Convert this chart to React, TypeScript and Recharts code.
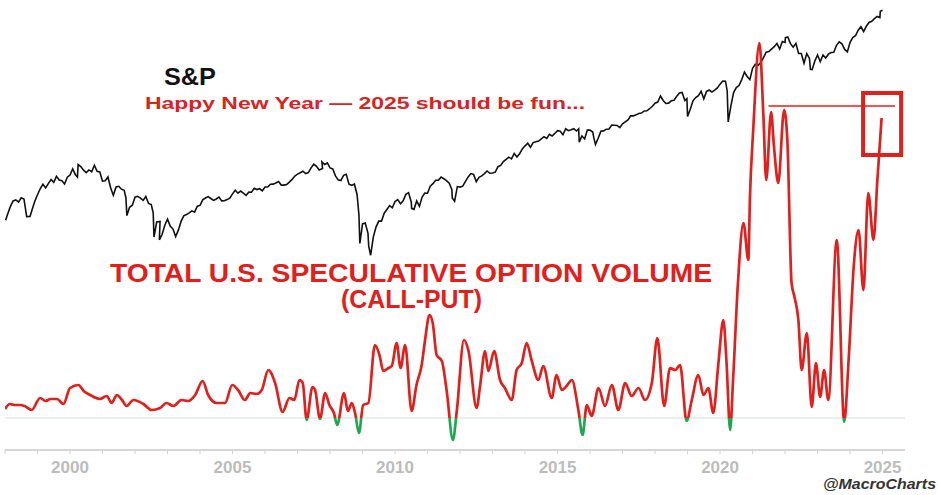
import { ComposedChart, Line, XAxis, YAxis, ReferenceLine, ReferenceArea } from 'recharts';

// S&P 500 (month-end closes plus a few swing highs/lows), x = decimal year
const spxYears = [
  1998.02, 1998.083, 1998.167, 1998.25, 1998.333, 1998.417, 1998.5, 1998.583, 1998.667, 1998.77, 1998.833, 1998.917, 1999.0,
  1999.083, 1999.167, 1999.25, 1999.333, 1999.417, 1999.5, 1999.583, 1999.667, 1999.75, 1999.833, 1999.917, 2000.0,
  2000.083, 2000.167, 2000.23, 2000.25, 2000.333, 2000.417, 2000.5, 2000.583, 2000.667, 2000.75, 2000.833, 2000.917, 2001.0,
  2001.083, 2001.167, 2001.25, 2001.333, 2001.417, 2001.5, 2001.583, 2001.667, 2001.72, 2001.75, 2001.833, 2001.917, 2002.0,
  2002.083, 2002.167, 2002.25, 2002.333, 2002.417, 2002.5, 2002.56, 2002.583, 2002.667, 2002.77, 2002.75, 2002.833, 2002.917, 2003.0,
  2003.083, 2003.167, 2003.19, 2003.25, 2003.333, 2003.417, 2003.5, 2003.583, 2003.667, 2003.75, 2003.833, 2003.917, 2004.0,
  2004.083, 2004.167, 2004.25, 2004.333, 2004.417, 2004.5, 2004.583, 2004.667, 2004.75, 2004.833, 2004.917, 2005.0,
  2005.083, 2005.167, 2005.25, 2005.333, 2005.417, 2005.5, 2005.583, 2005.667, 2005.75, 2005.833, 2005.917, 2006.0,
  2006.083, 2006.167, 2006.25, 2006.333, 2006.417, 2006.5, 2006.583, 2006.667, 2006.75, 2006.833, 2006.917, 2007.0,
  2007.083, 2007.167, 2007.25, 2007.333, 2007.417, 2007.5, 2007.583, 2007.667, 2007.77, 2007.75, 2007.833, 2007.917, 2008.0,
  2008.083, 2008.167, 2008.25, 2008.333, 2008.417, 2008.5, 2008.583, 2008.667, 2008.75, 2008.833, 2008.89, 2008.917, 2009.0,
  2009.083, 2009.167, 2009.19, 2009.25, 2009.333, 2009.417, 2009.5, 2009.583, 2009.667, 2009.75, 2009.833, 2009.917, 2010.0,
  2010.083, 2010.167, 2010.25, 2010.333, 2010.417, 2010.5, 2010.51, 2010.583, 2010.667, 2010.75, 2010.833, 2010.917, 2011.0,
  2011.083, 2011.167, 2011.25, 2011.333, 2011.417, 2011.5, 2011.583, 2011.667, 2011.75, 2011.76, 2011.833, 2011.917, 2012.0,
  2012.083, 2012.167, 2012.25, 2012.333, 2012.417, 2012.5, 2012.583, 2012.667, 2012.75, 2012.833, 2012.917, 2013.0,
  2013.083, 2013.167, 2013.25, 2013.333, 2013.417, 2013.5, 2013.583, 2013.667, 2013.75, 2013.833, 2013.917, 2014.0,
  2014.083, 2014.167, 2014.25, 2014.333, 2014.417, 2014.5, 2014.583, 2014.667, 2014.75, 2014.833, 2014.917, 2015.0,
  2015.083, 2015.167, 2015.25, 2015.333, 2015.417, 2015.5, 2015.583, 2015.65, 2015.667, 2015.75, 2015.833, 2015.917, 2016.0,
  2016.083, 2016.117, 2016.167, 2016.25, 2016.333, 2016.417, 2016.5, 2016.583, 2016.667, 2016.75, 2016.833, 2016.917, 2017.0,
  2017.083, 2017.167, 2017.25, 2017.333, 2017.417, 2017.5, 2017.583, 2017.667, 2017.75, 2017.833, 2017.917, 2018.0,
  2018.083, 2018.167, 2018.25, 2018.333, 2018.417, 2018.5, 2018.583, 2018.667, 2018.75, 2018.833, 2018.917, 2018.98, 2019.0,
  2019.083, 2019.167, 2019.25, 2019.333, 2019.417, 2019.5, 2019.583, 2019.667, 2019.75, 2019.833, 2019.917, 2020.0,
  2020.083, 2020.167, 2020.22, 2020.25, 2020.333, 2020.417, 2020.5, 2020.583, 2020.667, 2020.75, 2020.833, 2020.917, 2021.0,
  2021.083, 2021.167, 2021.25, 2021.333, 2021.417, 2021.5, 2021.583, 2021.667, 2021.75, 2021.833, 2021.917, 2022.0,
  2022.01, 2022.083, 2022.167, 2022.25, 2022.333, 2022.417, 2022.5, 2022.583, 2022.667, 2022.75, 2022.78, 2022.833, 2022.917, 2023.0,
  2023.083, 2023.167, 2023.25, 2023.333, 2023.417, 2023.5, 2023.583, 2023.667, 2023.75, 2023.833, 2023.917, 2024.0,
  2024.083, 2024.167, 2024.25, 2024.333, 2024.417, 2024.5, 2024.583, 2024.667, 2024.75, 2024.833, 2024.917, 2024.93, 2025.0,
];
const spxClose = [
  927, 980, 1049, 1102, 1112, 1091, 1134, 1121, 957, 959, 1017, 1099, 1164, 1229,
  1280, 1238, 1286, 1335, 1302, 1373, 1329, 1320, 1283, 1363, 1389, 1469,
  1394, 1366, 1527, 1499, 1452, 1421, 1455, 1431, 1518, 1437, 1429, 1315, 1320,
  1366, 1240, 1160, 1249, 1256, 1224, 1211, 1134, 966, 1041, 1060, 1139, 1148,
  1130, 1107, 1147, 1077, 1067, 990, 797, 912, 916, 777, 815, 886, 936, 880,
  856, 841, 800, 848, 917, 964, 975, 990, 1008, 996, 1051, 1058, 1112,
  1131, 1145, 1126, 1107, 1121, 1141, 1102, 1104, 1115, 1130, 1174, 1212,
  1181, 1204, 1181, 1157, 1192, 1191, 1234, 1220, 1229, 1207, 1249, 1248,
  1280, 1281, 1295, 1311, 1270, 1270, 1277, 1304, 1336, 1378, 1401, 1418,
  1438, 1407, 1421, 1482, 1531, 1503, 1455, 1474, 1565, 1527, 1549, 1481, 1468,
  1379, 1331, 1323, 1386, 1400, 1280, 1267, 1283, 1165, 969, 752, 896, 903,
  826, 735, 677, 798, 873, 919, 919, 987, 1021, 1057, 1036, 1096, 1115,
  1074, 1104, 1169, 1187, 1089, 1031, 1022, 1102, 1049, 1141, 1183, 1181, 1258,
  1286, 1327, 1326, 1364, 1345, 1321, 1292, 1219, 1131, 1099, 1253, 1247, 1258,
  1312, 1366, 1408, 1398, 1310, 1362, 1379, 1407, 1441, 1412, 1416, 1426,
  1498, 1515, 1569, 1598, 1631, 1606, 1686, 1633, 1682, 1757, 1806, 1848,
  1783, 1859, 1872, 1884, 1924, 1960, 1931, 2003, 1972, 2018, 2068, 2059,
  1995, 2105, 2068, 2086, 2107, 2063, 2104, 1867, 1972, 1920, 2079, 2080, 2044,
  1940, 1829, 1932, 2060, 2065, 2097, 2099, 2174, 2171, 2168, 2126, 2199, 2239,
  2279, 2364, 2363, 2384, 2412, 2423, 2470, 2472, 2519, 2575, 2648, 2674,
  2824, 2714, 2641, 2648, 2705, 2718, 2816, 2902, 2914, 2712, 2760, 2351, 2507,
  2704, 2784, 2834, 2946, 2752, 2942, 2980, 2926, 2977, 3038, 3141, 3231,
  3226, 2954, 2237, 2585, 2912, 3044, 3100, 3271, 3500, 3363, 3270, 3622, 3756,
  3714, 3811, 3973, 4181, 4204, 4298, 4395, 4523, 4308, 4605, 4567, 4766,
  4797, 4516, 4374, 4530, 4132, 4132, 3785, 4130, 3955, 3586, 3577, 3872, 4080, 3840,
  4077, 3970, 4109, 4169, 4180, 4450, 4589, 4508, 4288, 4194, 4568, 4770,
  4846, 5096, 5254, 5036, 5278, 5460, 5522, 5648, 5762, 5705, 6032, 6090, 5882,
];

// Total U.S. speculative option volume (call-put), index units, x = decimal year
const optYears = [
  1998.0, 1998.15, 1998.3, 1998.45, 1998.6, 1998.82, 1999.08, 1999.25, 1999.4, 1999.6, 1999.8,
  2000.0, 2000.26, 2000.42, 2000.62, 2000.92, 2001.13, 2001.28, 2001.44, 2001.6, 2001.74, 2001.95,
  2002.26, 2002.51, 2002.77, 2002.97, 2003.18, 2003.43, 2003.64, 2003.85,
  2004.08, 2004.25, 2004.51, 2004.77, 2004.99, 2005.17, 2005.38, 2005.55, 2005.74, 2005.9,
  2006.1, 2006.31, 2006.54, 2006.75, 2006.9, 2007.06, 2007.16, 2007.28, 2007.46, 2007.54, 2007.69, 2007.85, 2007.98,
  2008.12, 2008.22, 2008.43, 2008.55, 2008.67, 2008.77, 2008.89, 2009.02, 2009.18, 2009.38, 2009.52, 2009.64, 2009.8, 2009.9,
  2010.05, 2010.17, 2010.31, 2010.51, 2010.66, 2010.82, 2010.92, 2011.06, 2011.16, 2011.28, 2011.44, 2011.59, 2011.78, 2011.9,
  2012.12, 2012.26, 2012.51, 2012.62, 2012.77, 2012.87, 2013.05, 2013.23, 2013.38, 2013.59, 2013.74, 2013.9,
  2014.05, 2014.2, 2014.41, 2014.56, 2014.82, 2014.97, 2015.13, 2015.28, 2015.44, 2015.64, 2015.77, 2015.9,
  2016.05, 2016.26, 2016.46, 2016.67, 2016.87, 2017.08, 2017.28, 2017.49, 2017.69, 2017.9,
  2018.07, 2018.28, 2018.46, 2018.62, 2018.77, 2018.97, 2019.13, 2019.33, 2019.49, 2019.64, 2019.79, 2019.95,
  2020.1, 2020.2, 2020.31, 2020.4, 2020.55, 2020.72, 2020.87, 2020.92, 2021.02, 2021.21, 2021.33, 2021.42, 2021.57,
  2021.66, 2021.79, 2021.97, 2022.07, 2022.2, 2022.29, 2022.41, 2022.51, 2022.67, 2022.82, 2022.95,
  2023.08, 2023.2, 2023.33, 2023.59, 2023.82, 2023.95, 2024.12, 2024.26, 2024.41, 2024.56, 2024.72, 2024.84, 2024.97,
];
const optVolume = [
  9, 14, 13, 13, 12, 8, 20, 17, 19, 19, 14,
  30, 33, 27, 23, 19, 22, 15, 23, 18, 12, 18,
  14, 8, 10, 15, 12, 18, 17, 23,
  37, 23, 15, 15, 33, 28, 18, 25, 24, 28,
  48, 35, 6, 20, 18, 38, 35, -2, 31, 28, -1, 25, 13,
  5, -7, 25, 7, 15, 5, -15, 13, 15, 73, 63, 47, 50, 52,
  75, 50, 73, 7, 33, 53, 77, 103, 95, 63, 57, 27, -22, 7,
  78, 67, 10, 33, 67, 47, 67, 38, 30, 18, 48, 55,
  75, 58, 38, 52, 20, 43, 28, 32, 38, 8, -17, 13,
  2, 30, 12, 33, 8, 35, 22, 30, 18, 35,
  80, 12, 50, 48, 53, -3, 18, 43, 23, 30, 5, 55,
  98, 55, -12, 38, 135, 195, 158, 221, 288, 375, 305, 238, 306,
  271, 235, 308, 278, 135, 121, 98, 48, 85, 11, 55,
  21, 48, 18, 178, -4, 55, 155, 188, 128, 225, 178, 238, 300,
];

const yearTicks = [
  1998, 1999, 2000, 2001, 2002, 2003, 2004, 2005, 2006, 2007, 2008, 2009, 2010, 2011,
  2012, 2013, 2014, 2015, 2016, 2017, 2018, 2019, 2020, 2021, 2022, 2023, 2024, 2025,
];

const spxData = spxYears.map((year, i) => ({ year, spx: spxClose[i] }));
const optData = optYears.map((year, i) => ({ year, opt: optVolume[i] }));

const OPT_MIN = -32;
const OPT_MAX = 418;
const zeroOffset = OPT_MAX / (OPT_MAX - OPT_MIN);

const RED = '#e0201c';
const GREEN = '#1fa84f';
const FONT = '"Liberation Sans", Arial, sans-serif';

export default function App() {
  return (
    <div style={{ position: 'absolute', left: 0, top: 0, width: 938, height: 495, background: '#fff' }}>
      <ComposedChart width={938} height={495} margin={{ top: 0, right: 33, bottom: 0, left: 5 }}>
        <defs>
          <linearGradient id="optSplit" gradientUnits="userSpaceOnUse" x1="0" y1="0" x2="0" y2="450">
            <stop offset={zeroOffset} stopColor={RED} />
            <stop offset={zeroOffset} stopColor={GREEN} />
          </linearGradient>
        </defs>
        <XAxis
          dataKey="year"
          type="number"
          domain={[1998, 2025.69]}
          ticks={yearTicks}
          allowDataOverflow
          height={45}
          tickFormatter={(v) => (v % 5 === 0 ? String(v) : '')}
          tick={{ fill: '#bcbcbc', fontSize: 17, fontWeight: 'bold', fontFamily: FONT }}
          tickLine={{ stroke: '#d0d0d0' }}
          tickSize={4}
          tickMargin={7}
          axisLine={{ stroke: '#d6d6d6', strokeWidth: 2 }}
        />
        <YAxis yAxisId="spx" scale="log" domain={[118, 6680]} allowDataOverflow hide />
        <YAxis yAxisId="opt" domain={[OPT_MIN, OPT_MAX]} allowDataOverflow hide />
        <ReferenceLine yAxisId="opt" y={0} stroke="#e4eae4" strokeWidth={1.5} />
        <Line
          yAxisId="spx"
          data={spxData}
          dataKey="spx"
          type="linear"
          stroke="#111"
          strokeWidth={1.6}
          dot={false}
          isAnimationActive={false}
        />
        <Line
          yAxisId="opt"
          data={optData}
          dataKey="opt"
          type="monotone"
          stroke="url(#optSplit)"
          strokeWidth={2.7}
          dot={false}
          isAnimationActive={false}
        />
        <ReferenceLine
          yAxisId="opt"
          segment={[{ x: 2021.49, y: 312 }, { x: 2025.38, y: 312 }]}
          stroke={RED}
          strokeWidth={1.3}
        />
        <ReferenceArea
          yAxisId="opt"
          x1={2024.4}
          x2={2025.57}
          y1={263}
          y2={325}
          fill="none"
          fillOpacity={0}
          stroke={RED}
          strokeWidth={4}
        />
      </ComposedChart>
      <svg width={938} height={495} style={{ position: 'absolute', left: 0, top: 0, pointerEvents: 'none' }}>
        <text x={164} y={85} fontFamily={FONT} fontWeight="bold" fontSize={24} fill="#111" textLength={52} lengthAdjust="spacingAndGlyphs">
          S&amp;P
        </text>
        <text x={145} y={109} fontFamily={FONT} fontWeight="bold" fontSize={17} fill="#d8231f" textLength={440} lengthAdjust="spacingAndGlyphs">
          Happy New Year — 2025 should be fun...
        </text>
        <text x={110} y={282} fontFamily={FONT} fontWeight="bold" fontSize={25.5} fill={RED} textLength={602} lengthAdjust="spacingAndGlyphs">
          TOTAL U.S. SPECULATIVE OPTION VOLUME
        </text>
        <text x={341} y={308} fontFamily={FONT} fontWeight="bold" fontSize={25.5} fill={RED} textLength={141} lengthAdjust="spacingAndGlyphs">
          (CALL-PUT)
        </text>
        <text x={823} y={489} fontFamily={FONT} fontWeight="bold" fontStyle="italic" fontSize={14} fill="#333" textLength={113} lengthAdjust="spacingAndGlyphs">
          @MacroCharts
        </text>
      </svg>
    </div>
  );
}
